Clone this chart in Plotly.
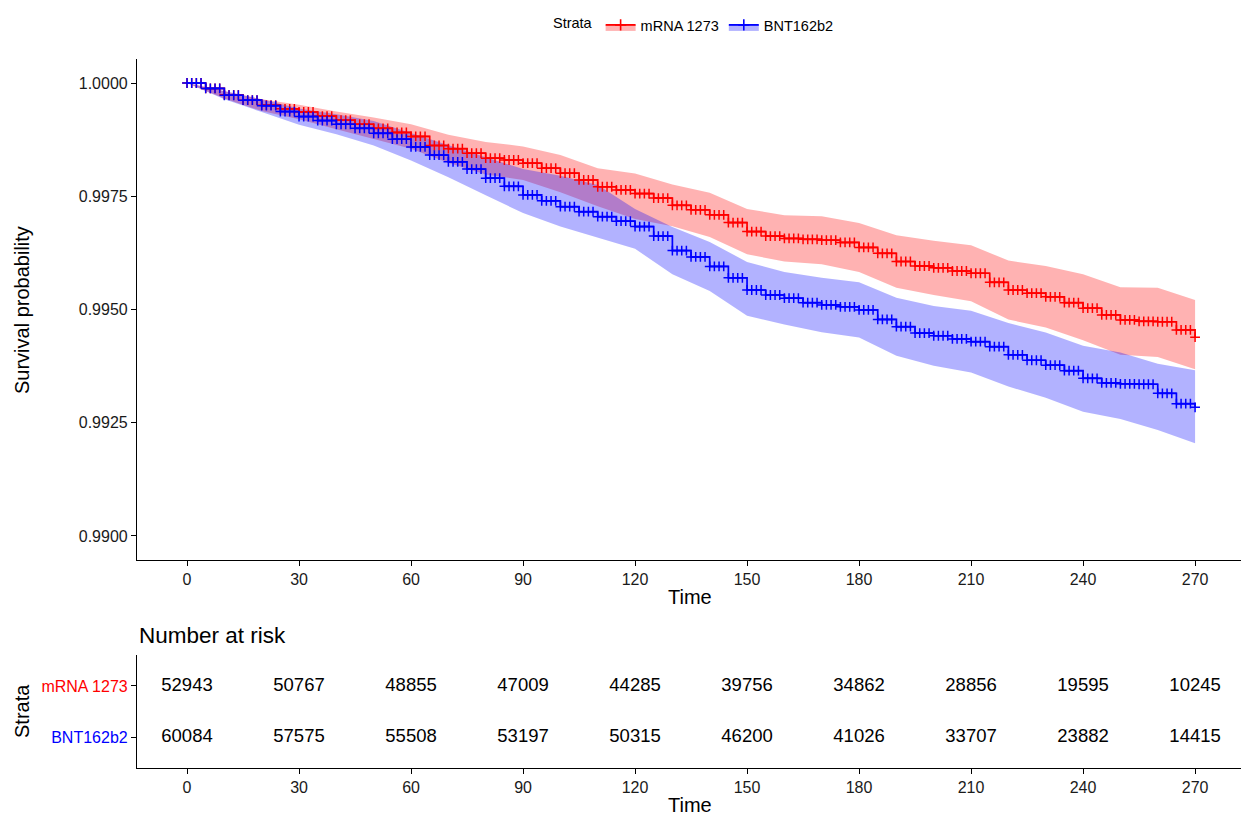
import plotly.graph_objects as go

W, H = 1241, 815

# ---------------- data ----------------
strata = ["mRNA 1273", "BNT162b2"]

time_pts = [0, 5, 10, 15, 20, 25, 30, 35, 40, 45, 50, 55, 60, 65, 70, 75, 80, 85, 90,
            95, 100, 105, 110, 115, 120, 125, 130, 135, 140, 145, 150, 155, 160, 165,
            170, 175, 180, 185, 190, 195, 200, 205, 210, 215, 220, 225, 230, 235, 240,
            245, 250, 255, 260, 265, 270]

surv_mrna = [1.00000, 0.99988, 0.99974, 0.99962, 0.99951, 0.99943, 0.99936, 0.99927,
             0.99918, 0.99909, 0.99900, 0.99891, 0.99882, 0.99862, 0.99855, 0.99845,
             0.99834, 0.99830, 0.99823, 0.99812, 0.99801, 0.99786, 0.99771, 0.99764,
             0.99756, 0.99746, 0.99730, 0.99720, 0.99709, 0.99692, 0.99672, 0.99662,
             0.99657, 0.99655, 0.99653, 0.99648, 0.99637, 0.99624, 0.99606, 0.99596,
             0.99592, 0.99585, 0.99580, 0.99560, 0.99543, 0.99536, 0.99528, 0.99515,
             0.99503, 0.99488, 0.99477, 0.99474, 0.99473, 0.99455, 0.99439]

surv_bnt = [1.00000, 0.99988, 0.99973, 0.99962, 0.99950, 0.99937, 0.99926, 0.99917,
            0.99909, 0.99900, 0.99889, 0.99876, 0.99859, 0.99841, 0.99826, 0.99810,
            0.99790, 0.99772, 0.99753, 0.99740, 0.99727, 0.99716, 0.99705, 0.99695,
            0.99683, 0.99662, 0.99630, 0.99616, 0.99595, 0.99570, 0.99543, 0.99532,
            0.99525, 0.99515, 0.99510, 0.99506, 0.99499, 0.99478, 0.99462, 0.99448,
            0.99442, 0.99435, 0.99429, 0.99418, 0.99400, 0.99388, 0.99377, 0.99365,
            0.99348, 0.99338, 0.99336, 0.99335, 0.99315, 0.99292, 0.99284]

ci_time = [0, 10, 20, 30, 40, 50, 60, 70, 80, 90, 100, 110, 120, 130, 140, 150, 160,
           170, 180, 190, 200, 210, 220, 230, 240, 250, 260, 270]

lower_mrna = [1.00000, 0.99966, 0.99938, 0.99920, 0.99898, 0.99876, 0.99855, 0.99824,
              0.99798, 0.99786, 0.99759, 0.99728, 0.99700, 0.99684, 0.99660, 0.99622,
              0.99606, 0.99600, 0.99583, 0.99548, 0.99532, 0.99518, 0.99478, 0.99460,
              0.99432, 0.99400, 0.99395, 0.99368]
upper_mrna = [1.00000, 0.99982, 0.99964, 0.99952, 0.99937, 0.99924, 0.99909, 0.99886,
              0.99870, 0.99860, 0.99841, 0.99812, 0.99800, 0.99776, 0.99758, 0.99722,
              0.99708, 0.99706, 0.99691, 0.99664, 0.99652, 0.99642, 0.99608, 0.99596,
              0.99578, 0.99549, 0.99548, 0.99521]

lower_bnt = [1.00000, 0.99964, 0.99936, 0.99908, 0.99887, 0.99862, 0.99829, 0.99792,
             0.99752, 0.99713, 0.99683, 0.99658, 0.99634, 0.99578, 0.99541, 0.99486,
             0.99467, 0.99450, 0.99438, 0.99398, 0.99376, 0.99361, 0.99330, 0.99305,
             0.99274, 0.99258, 0.99234, 0.99205]
upper_bnt = [1.00000, 0.99982, 0.99964, 0.99944, 0.99931, 0.99916, 0.99889, 0.99862,
             0.99836, 0.99810, 0.99795, 0.99775, 0.99722, 0.99682, 0.99649, 0.99605,
             0.99583, 0.99570, 0.99560, 0.99526, 0.99508, 0.99497, 0.99470, 0.99449,
             0.99420, 0.99405, 0.99380, 0.99366]

risk_times = [0, 30, 60, 90, 120, 150, 180, 210, 240, 270]
risk_mrna = [52943, 50767, 48855, 47009, 44285, 39756, 34862, 28856, 19595, 10245]
risk_bnt = [60084, 57575, 55508, 53197, 50315, 46200, 41026, 33707, 23882, 14415]

y_ticks = [0.9900, 0.9925, 0.9950, 0.9975, 1.0000]

# ---------------- styling ----------------
FONT = "Liberation Sans, Arial, sans-serif"
RED, BLUE = "#FF0000", "#0000FF"
RED_FILL, BLUE_FILL = "rgba(255,0,0,0.30)", "rgba(0,0,255,0.30)"
MARKS_PER_STEP = 4


def px_x(p):
    return p / W


def px_y(p):
    return 1 - p / H


fig = go.Figure()

# confidence bands
for name, lo, up, fc in [(strata[0], lower_mrna, upper_mrna, RED_FILL),
                         (strata[1], lower_bnt, upper_bnt, BLUE_FILL)]:
    fig.add_trace(go.Scatter(x=ci_time, y=lo, mode="lines", line=dict(width=0),
                             showlegend=False, hoverinfo="skip", xaxis="x", yaxis="y"))
    fig.add_trace(go.Scatter(x=ci_time, y=up, mode="lines", line=dict(width=0),
                             fill="tonexty", fillcolor=fc, showlegend=False,
                             hoverinfo="skip", xaxis="x", yaxis="y"))

# survival step curves + censor marks
for name, s, col in [(strata[0], surv_mrna, RED), (strata[1], surv_bnt, BLUE)]:
    fig.add_trace(go.Scatter(x=time_pts, y=s, mode="lines",
                             line=dict(color=col, width=1.7, shape="hv"),
                             showlegend=False, xaxis="x", yaxis="y"))
    # censor marks sit on the flat parts of each step (value held until next step)
    cx, cy = [], []
    for i in range(len(time_pts) - 1):
        step = (time_pts[i + 1] - time_pts[i]) / MARKS_PER_STEP
        for k in range(MARKS_PER_STEP):
            cx.append(time_pts[i] + k * step)
            cy.append(s[i])
    cx.append(time_pts[-1])
    cy.append(s[-1])
    fig.add_trace(go.Scatter(x=cx, y=cy, mode="markers",
                             marker=dict(symbol="cross-thin", size=7, color=col,
                                         line=dict(color=col, width=1.5)),
                             showlegend=False, hoverinfo="skip", xaxis="x", yaxis="y"))

# legend entries
for name, col, fc in [(strata[0], RED, RED_FILL), (strata[1], BLUE, BLUE_FILL)]:
    fig.add_trace(go.Scatter(x=[None], y=[None], mode="lines+markers", name=name,
                             fill="toself", fillcolor=fc,
                             line=dict(color=col, width=1.8),
                             marker=dict(symbol="cross-thin", size=8, color=col,
                                         line=dict(color=col, width=1.6)),
                             xaxis="x", yaxis="y"))

# risk table
for row, vals in [(2, risk_mrna), (1, risk_bnt)]:
    fig.add_trace(go.Scatter(x=risk_times, y=[row] * len(risk_times), mode="text",
                             text=[str(v) for v in vals],
                             textfont=dict(family=FONT, size=18.5, color="black"),
                             showlegend=False, hoverinfo="skip", xaxis="x2", yaxis="y2"))

x_dom = [px_x(137), 1.0]
x_range = [-13.4, 282.3]
axis_common = dict(showline=True, linecolor="black", linewidth=1.2, ticks="outside",
                   ticklen=5, tickcolor="black", tickwidth=1.1, showgrid=False,
                   zeroline=False, tickfont=dict(family=FONT, size=16, color="#1a1a1a"))

fig.update_layout(
    width=W, height=H,
    margin=dict(l=0, r=0, t=0, b=0),
    paper_bgcolor="white", plot_bgcolor="white",
    font=dict(family=FONT, color="black"),
    xaxis=dict(domain=x_dom, range=x_range, tickvals=risk_times, anchor="y", **axis_common),
    yaxis=dict(domain=[px_y(560), px_y(59)], range=[0.98947, 1.00053], tickvals=y_ticks,
               tickformat=".4f", anchor="x", **axis_common),
    xaxis2=dict(domain=x_dom, range=x_range, tickvals=risk_times, anchor="y2", **axis_common),
    yaxis2=dict(domain=[px_y(768), px_y(655)], range=[0.394, 2.606], tickvals=[2, 1],
                ticktext=['<span style="color:#FF0000">' + strata[0] + '</span>',
                          '<span style="color:#0000FF">' + strata[1] + '</span>'],
                anchor="x2", **axis_common),
    legend=dict(orientation="h", x=px_x(695), xanchor="center", y=px_y(9), yanchor="top",
                traceorder="normal",
                font=dict(family=FONT, size=14.5, color="black"),
                title=dict(text="Strata", side="left", font=dict(family=FONT, size=14.5)),
                itemwidth=30, bgcolor="rgba(0,0,0,0)"),
    showlegend=True,
)

ann = [
    dict(text="Survival probability", x=px_x(22), y=px_y(310), textangle=-90,
         font=dict(size=20)),
    dict(text="Time", x=px_x(690), y=px_y(597), font=dict(size=20)),
    dict(text="Time", x=px_x(690), y=px_y(805), font=dict(size=20)),
    dict(text="Strata", x=px_x(22), y=px_y(711), textangle=-90, font=dict(size=20)),
    dict(text="Number at risk", x=px_x(137), y=px_y(635), xanchor="left",
         font=dict(size=22.5)),
]
for a in ann:
    a.setdefault("xanchor", "center")
    a.update(xref="paper", yref="paper", yanchor="middle", showarrow=False)
    a["font"].update(family=FONT, color="black")
    fig.add_annotation(**a)

fig.write_html(
    "out.html",
    config={"displayModeBar": False},
    post_script="document.body.style.margin='0';document.body.style.overflow='hidden';",
)
